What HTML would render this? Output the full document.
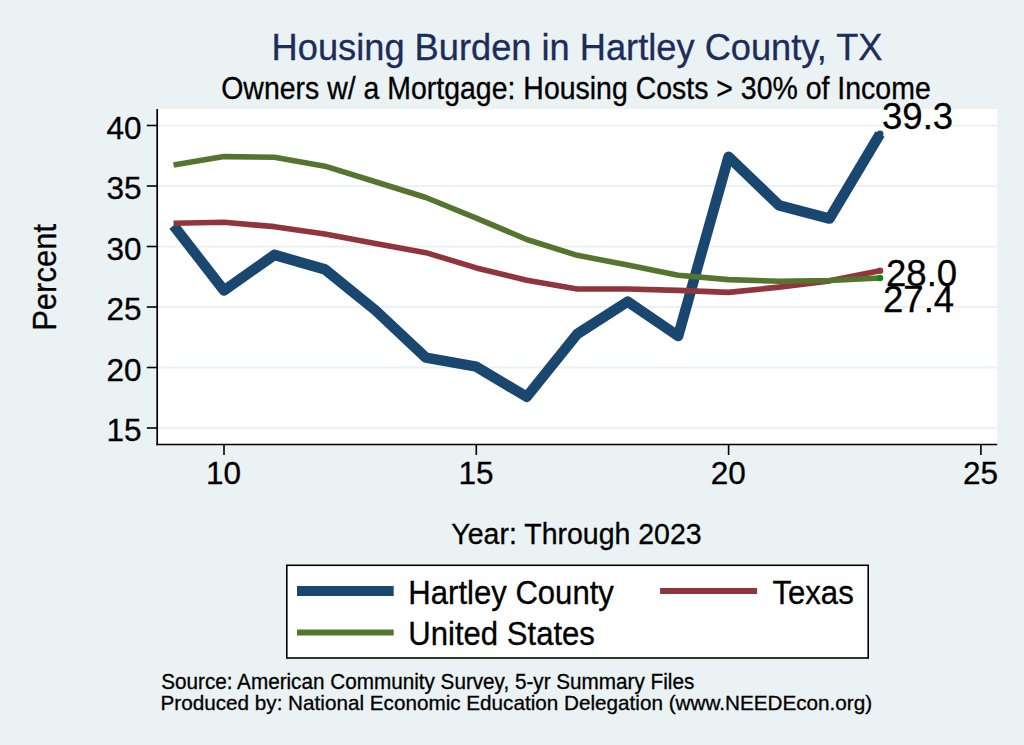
<!DOCTYPE html>
<html><head><meta charset="utf-8"><style>
html,body{margin:0;padding:0;background:#eaf2f3;}
svg{display:block;}
text{font-family:"Liberation Sans",sans-serif;fill:#000;stroke:#000;stroke-width:0.3px;}
</style></head><body>
<svg width="1024" height="745" viewBox="0 0 1024 745">
<rect x="0" y="0" width="1024" height="745" fill="#eaf2f3"/>
<rect x="157.2" y="108.9" width="840.0" height="335.6" fill="#fff"/>
<line x1="157.2" y1="428.00" x2="997.2" y2="428.00" stroke="#eaf2f3" stroke-width="2"/>
<line x1="157.2" y1="367.50" x2="997.2" y2="367.50" stroke="#eaf2f3" stroke-width="2"/>
<line x1="157.2" y1="307.00" x2="997.2" y2="307.00" stroke="#eaf2f3" stroke-width="2"/>
<line x1="157.2" y1="246.50" x2="997.2" y2="246.50" stroke="#eaf2f3" stroke-width="2"/>
<line x1="157.2" y1="186.00" x2="997.2" y2="186.00" stroke="#eaf2f3" stroke-width="2"/>
<line x1="157.2" y1="125.50" x2="997.2" y2="125.50" stroke="#eaf2f3" stroke-width="2"/>

<polyline points="173.54,225.45 224.00,290.54 274.46,254.85 324.92,269.37 375.38,310.27 425.84,357.70 476.30,366.65 526.76,396.78 577.22,333.98 627.68,301.56 678.14,336.04 728.60,156.72 779.06,205.36 829.52,218.55 879.98,133.97" fill="none" stroke="#1a476f" stroke-width="10.5" stroke-linejoin="round" stroke-linecap="butt"/>
<circle cx="879.98" cy="133.97" r="3.5" fill="#1a476f"/>
<polyline points="173.54,223.27 224.00,222.30 274.46,226.66 324.92,233.92 375.38,243.47 425.84,252.67 476.30,267.92 526.76,280.26 577.22,288.97 627.68,288.97 678.14,290.42 728.60,292.36 779.06,287.16 829.52,280.86 879.98,270.70" fill="none" stroke="#90353b" stroke-width="5.6" stroke-linejoin="round" stroke-linecap="butt"/>
<circle cx="879.98" cy="270.70" r="3.3" fill="#90353b"/>
<polyline points="173.54,164.95 224.00,156.60 274.46,157.32 324.92,166.16 375.38,181.76 425.84,197.50 476.30,218.06 526.76,239.48 577.22,255.33 627.68,265.01 678.14,275.18 728.60,279.65 779.06,281.23 829.52,280.50 879.98,277.96" fill="none" stroke="#55752f" stroke-width="5.6" stroke-linejoin="round" stroke-linecap="butt"/>
<circle cx="879.98" cy="277.96" r="3.2" fill="#0a8a10"/>
<line x1="157.2" y1="108.9" x2="157.2" y2="445.3" stroke="#000" stroke-width="1.7"/>
<line x1="156.39999999999998" y1="444.5" x2="997.2" y2="444.5" stroke="#000" stroke-width="1.6"/>
<line x1="146.8" y1="428.00" x2="157.2" y2="428.00" stroke="#000" stroke-width="1.6"/>
<text x="141.5" y="441.20" text-anchor="end" font-size="31.5">15</text>
<line x1="146.8" y1="367.50" x2="157.2" y2="367.50" stroke="#000" stroke-width="1.6"/>
<text x="141.5" y="380.70" text-anchor="end" font-size="31.5">20</text>
<line x1="146.8" y1="307.00" x2="157.2" y2="307.00" stroke="#000" stroke-width="1.6"/>
<text x="141.5" y="320.20" text-anchor="end" font-size="31.5">25</text>
<line x1="146.8" y1="246.50" x2="157.2" y2="246.50" stroke="#000" stroke-width="1.6"/>
<text x="141.5" y="259.70" text-anchor="end" font-size="31.5">30</text>
<line x1="146.8" y1="186.00" x2="157.2" y2="186.00" stroke="#000" stroke-width="1.6"/>
<text x="141.5" y="199.20" text-anchor="end" font-size="31.5">35</text>
<line x1="146.8" y1="125.50" x2="157.2" y2="125.50" stroke="#000" stroke-width="1.6"/>
<text x="141.5" y="138.70" text-anchor="end" font-size="31.5">40</text>
<line x1="224.00" y1="444.5" x2="224.00" y2="455" stroke="#000" stroke-width="1.6"/>
<text x="223.60" y="484.2" text-anchor="middle" font-size="31.5">10</text>
<line x1="476.30" y1="444.5" x2="476.30" y2="455" stroke="#000" stroke-width="1.6"/>
<text x="475.90" y="484.2" text-anchor="middle" font-size="31.5">15</text>
<line x1="728.60" y1="444.5" x2="728.60" y2="455" stroke="#000" stroke-width="1.6"/>
<text x="728.20" y="484.2" text-anchor="middle" font-size="31.5">20</text>
<line x1="980.90" y1="444.5" x2="980.90" y2="455" stroke="#000" stroke-width="1.6"/>
<text x="980.50" y="484.2" text-anchor="middle" font-size="31.5">25</text>

<text transform="translate(271.6,59.8) scale(1,1.035)" font-size="36.25" style="fill:#1c2c5b;stroke:#1c2c5b">Housing Burden in Hartley County, TX</text>
<text transform="translate(221.2,98.7) scale(1,1.077)" font-size="28.47">Owners w/ a Mortgage: Housing Costs &gt; 30% of Income</text>
<text transform="translate(56,277.4) rotate(-90) scale(1,1.07)" text-anchor="middle" font-size="31">Percent</text>
<text transform="translate(576.5,543.8) scale(1,1.06)" text-anchor="middle" font-size="28.5">Year: Through 2023</text>
<text x="882" y="129.1" font-size="36.6">39.3</text>
<text x="886" y="286.2" font-size="36.6">28.0</text>
<text x="883" y="311.7" font-size="36.6">27.4</text>
<rect x="286.8" y="565.3" width="581.4" height="92.7" fill="#fff" stroke="#000" stroke-width="1.6"/>
<line x1="297" y1="591" x2="393.7" y2="591" stroke="#1a476f" stroke-width="10"/>
<line x1="660.1" y1="591" x2="757.1" y2="591" stroke="#90353b" stroke-width="5.9"/>
<line x1="297" y1="632.5" x2="393.7" y2="632.5" stroke="#55752f" stroke-width="5.9"/>
<text transform="translate(408.3,604) scale(1,1.07)" font-size="31.1">Hartley County</text>
<text transform="translate(772.5,604) scale(1,1.07)" font-size="31.1">Texas</text>
<text transform="translate(408.3,645) scale(1,1.07)" font-size="31.1">United States</text>
<text transform="translate(161.2,688.8) scale(1,1.03)" font-size="20.7">Source: American Community Survey, 5-yr Summary Files</text>
<text transform="translate(160.5,710.1) scale(1,1.02)" font-size="20.7">Produced by: National Economic Education Delegation (www.NEEDEcon.org)</text>
</svg>
</body></html>
